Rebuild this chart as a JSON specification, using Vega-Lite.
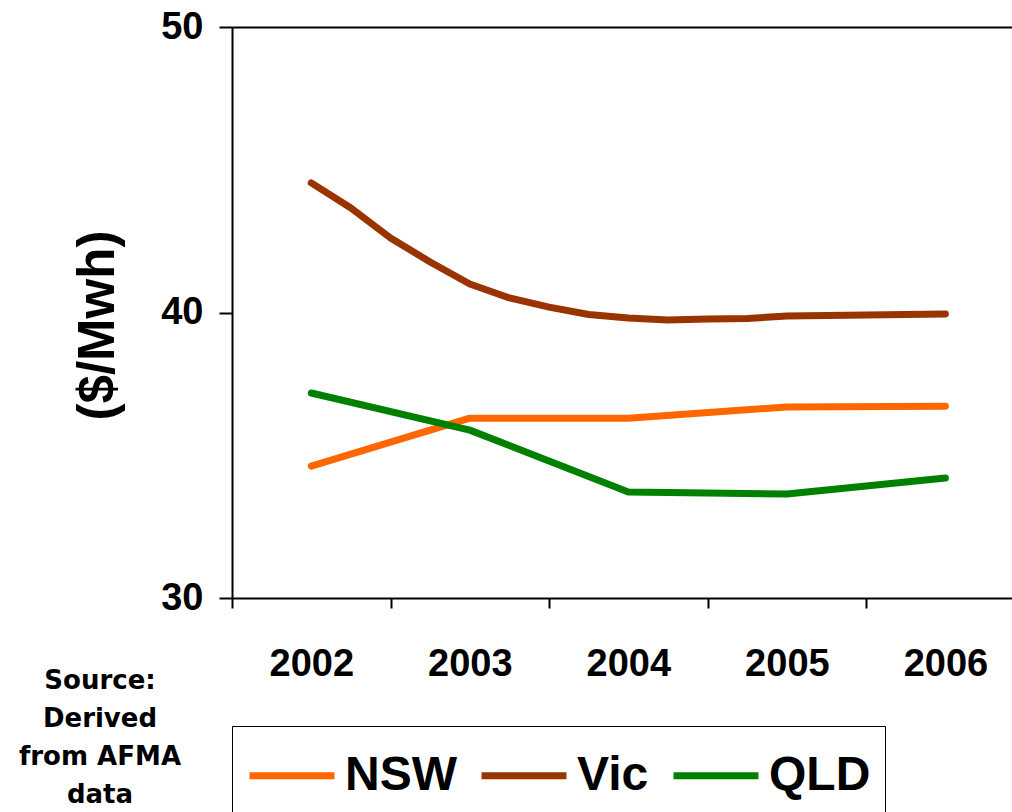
{
  "$schema": "https://vega.github.io/schema/vega-lite/v6.json",
  "autosize": "none",
  "width": 780,
  "height": 571,
  "padding": {"left": 232, "top": 27, "right": 0, "bottom": 214},
  "background": "white",
  "config": {
    "view": {"stroke": null},
    "font": "Liberation Sans"
  },
  "title": {
    "text": ["Source:", "Derived", "from AFMA", "data"],
    "orient": "top",
    "anchor": "start",
    "frame": "group",
    "align": "center",
    "baseline": "alphabetic",
    "dx": -132,
    "dy": 821,
    "offset": 0,
    "lineHeight": 38,
    "font": "DejaVu Sans",
    "fontSize": 26,
    "fontWeight": "bold",
    "color": "black"
  },
  "data": {
    "values": [
      {"series": "NSW", "t": 2002.0, "price": 34.62},
      {"series": "NSW", "t": 2003.0, "price": 36.30},
      {"series": "NSW", "t": 2004.0, "price": 36.30},
      {"series": "NSW", "t": 2005.0, "price": 36.69},
      {"series": "NSW", "t": 2006.0, "price": 36.72},
      {"series": "Vic", "t": 2002.0, "price": 44.54},
      {"series": "Vic", "t": 2002.25, "price": 43.66},
      {"series": "Vic", "t": 2002.5, "price": 42.61},
      {"series": "Vic", "t": 2002.75, "price": 41.77},
      {"series": "Vic", "t": 2003.0, "price": 41.0},
      {"series": "Vic", "t": 2003.25, "price": 40.51},
      {"series": "Vic", "t": 2003.5, "price": 40.19},
      {"series": "Vic", "t": 2003.75, "price": 39.93},
      {"series": "Vic", "t": 2004.0, "price": 39.81},
      {"series": "Vic", "t": 2004.25, "price": 39.74},
      {"series": "Vic", "t": 2004.5, "price": 39.77},
      {"series": "Vic", "t": 2004.75, "price": 39.79},
      {"series": "Vic", "t": 2005.0, "price": 39.88},
      {"series": "Vic", "t": 2005.5, "price": 39.91},
      {"series": "Vic", "t": 2006.0, "price": 39.95},
      {"series": "QLD", "t": 2002.0, "price": 37.18},
      {"series": "QLD", "t": 2003.0, "price": 35.88},
      {"series": "QLD", "t": 2004.0, "price": 33.71},
      {"series": "QLD", "t": 2005.0, "price": 33.64},
      {"series": "QLD", "t": 2006.0, "price": 34.20}
    ]
  },
  "mark": {"type": "line", "strokeWidth": 7, "strokeCap": "round", "strokeJoin": "round"},
  "encoding": {
    "x": {
      "field": "t",
      "type": "quantitative",
      "scale": {"domain": [2001.5, 2006.42], "nice": false, "zero": false},
      "axis": {
        "title": null,
        "grid": false,
        "values": [2001.5, 2002, 2002.5, 2003, 2003.5, 2004, 2004.5, 2005, 2005.5, 2006],
        "labelExpr": "datum.value % 1 === 0 ? datum.value : ''",
        "labelOverlap": false,
        "labelFlush": false,
        "labelFont": "Liberation Sans",
        "labelFontSize": 38,
        "labelFontWeight": "bold",
        "labelColor": "black",
        "labelPadding": 37,
        "tickSize": 10,
        "tickWidth": 2,
        "tickColor": "black",
        "tickOpacity": {"condition": {"test": "datum.value % 1 === 0", "value": 0}, "value": 1},
        "domainColor": "black",
        "domainWidth": 2
      }
    },
    "y": {
      "field": "price",
      "type": "quantitative",
      "scale": {"domain": [30, 50], "nice": false, "zero": false},
      "axis": {
        "title": "($/Mwh)",
        "titleFont": "Liberation Sans",
        "titleFontSize": 51,
        "titleFontWeight": "bold",
        "titleColor": "black",
        "titlePadding": 36,
        "titleY": 298,
        "values": [30, 40, 50],
        "grid": true,
        "gridColor": "black",
        "gridWidth": 2,
        "gridOpacity": {"condition": {"test": "datum.value === 50", "value": 1}, "value": 0},
        "labelFont": "Liberation Sans",
        "labelFontSize": 38,
        "labelFontWeight": "bold",
        "labelColor": "black",
        "labelPadding": 16,
        "tickSize": 13,
        "tickWidth": 2,
        "tickColor": "black",
        "domainColor": "black",
        "domainWidth": 2
      }
    },
    "color": {
      "field": "series",
      "type": "nominal",
      "scale": {"domain": ["NSW", "Vic", "QLD"], "range": ["#FF6600", "#993300", "#008000"]},
      "legend": {
        "title": null,
        "orient": "none",
        "legendX": 0,
        "legendY": 699,
        "direction": "horizontal",
        "strokeColor": "black",
        "fillColor": "white",
        "padding": 14,
        "symbolType": "M-1,0H1.656",
        "symbolSize": 4096,
        "symbolStrokeWidth": 7,
        "labelFont": "Liberation Sans",
        "labelFontSize": 48,
        "labelFontWeight": "bold",
        "labelColor": "black",
        "labelOffset": 28,
        "columnPadding": 10,
        "labelLimit": 300
      }
    }
  }
}
